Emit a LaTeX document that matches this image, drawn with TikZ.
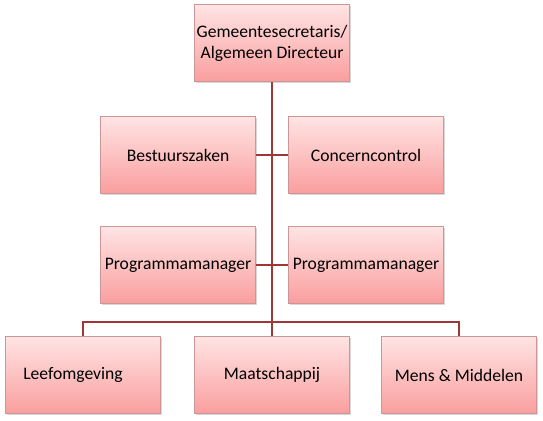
\documentclass[tikz,border=0pt]{standalone}
\usepackage{fontspec}
\setmainfont{Carlito}
\usetikzlibrary{positioning,shadows,calc}

\definecolor{boxtop}{RGB}{255,228,228}
\definecolor{boxbot}{RGB}{250,158,158}
\definecolor{boxline}{RGB}{205,150,150}
\definecolor{orgline}{RGB}{160,55,55}

\begin{document}
\begin{tikzpicture}[x=1pt,y=-1pt,
  unit/.style={rectangle, draw=boxline, line width=0.5pt,
    top color=boxtop, bottom color=boxbot,
    minimum width=155pt, minimum height=77pt, align=center,
    inner sep=2pt, font=\fontsize{17.6}{21}\selectfont,
    drop shadow={shadow xshift=1.5pt, shadow yshift=-1.5pt, fill=black!30}},
  link/.style={draw=orgline, line width=2.5pt}]
  \useasboundingbox (0,0) rectangle (543,420);

  \node (gs) [unit] at (272,43) {Gemeentesecretaris/\\Algemeen Directeur};
  \node (bz) [unit] at (178,155) {Bestuurszaken};
  \node (cc) [unit] at (366,155) {Concerncontrol};
  \node (pm1) [unit] at (178,265) {Programmamanager};
  \node (pm2) [unit] at (366,265) {Programmamanager};
  \node (lo) [unit] at (83,375) {Leefomgeving\hspace*{20pt}};
  \node (ms) [unit] at (272,375) {Maatschappij};
  \node (mm) [unit] at (459,375) {Mens \& Middelen};
  \coordinate (bar) at (272,322);

  \draw[link] (gs) -- (bar);
  \draw[link] (bz) -- (cc);
  \draw[link] (pm1) -- (pm2);
  \draw[link] (lo.north) |- (bar) -| (mm.north);
  \draw[link] (bar) -- (ms);
\end{tikzpicture}
\end{document}
